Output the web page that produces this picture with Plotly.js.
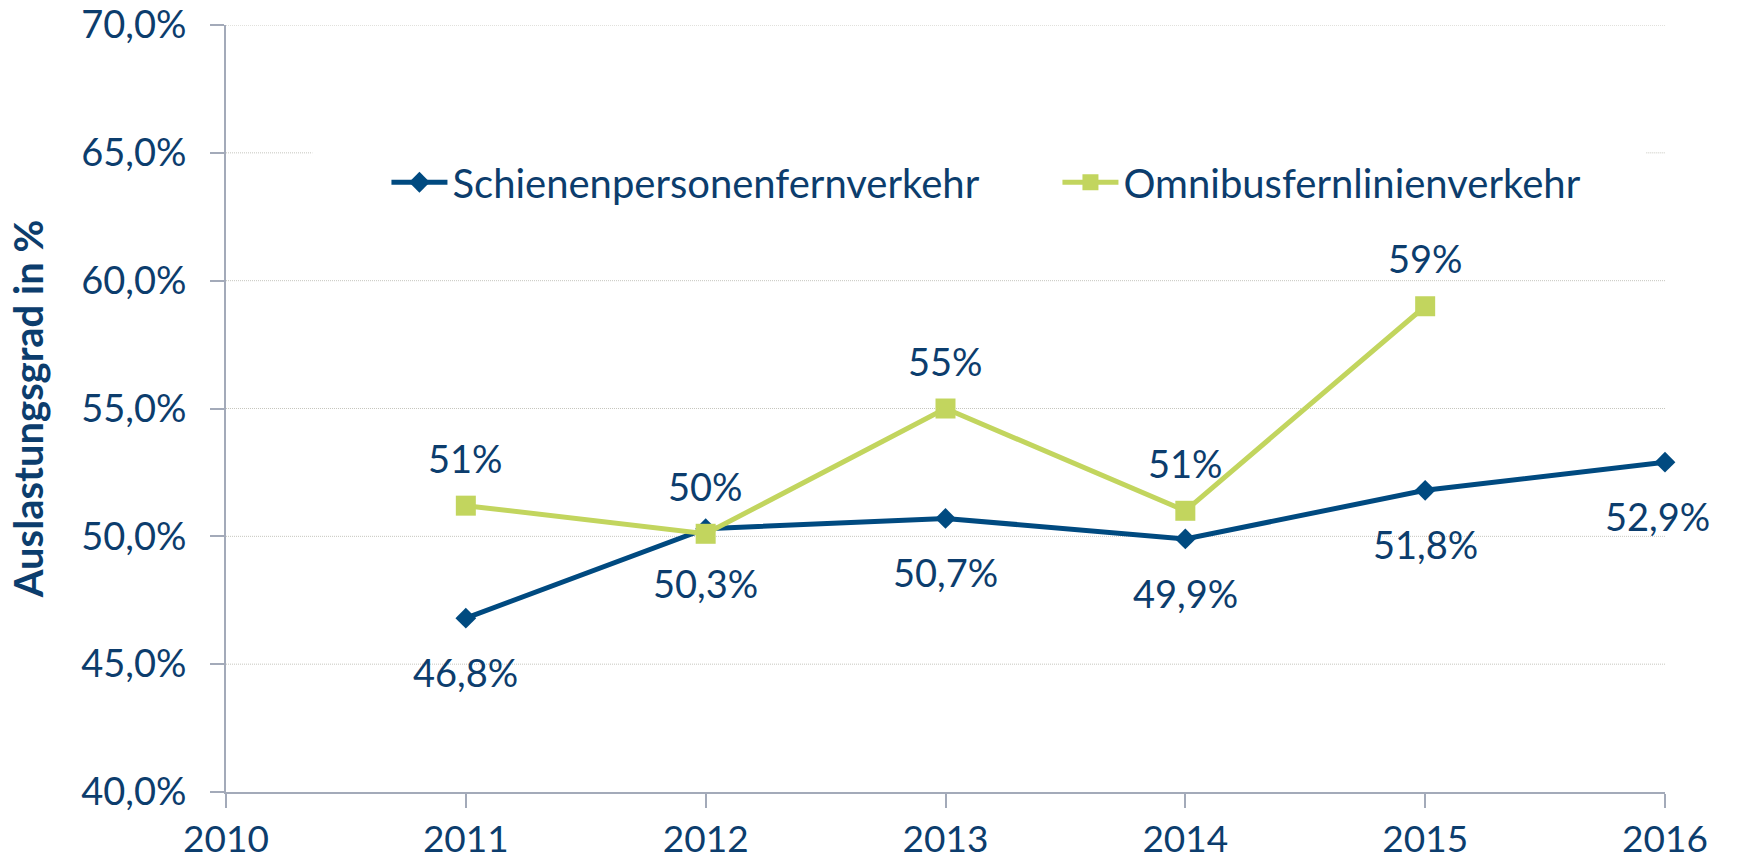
<!DOCTYPE html>
<html>
<head>
<meta charset="utf-8">
<script src="https://cdn.plot.ly/plotly-3.0.1.min.js"></script>
<style>
html,body{margin:0;padding:0;background:#fff;}
#chart{width:1737px;height:866px;}
</style>
</head>
<body>
<div id="chart"></div>
<script>
// ---- data ----
const years = [2011, 2012, 2013, 2014, 2015, 2016];
const schieneValues = [46.8, 50.3, 50.7, 49.9, 51.8, 52.9];
const busYears = [2011, 2012, 2013, 2014, 2015];
const busValues = [51.2, 50.1, 55.0, 51.0, 59.0];
const seriesNames = ["Schienenpersonenfernverkehr", "Omnibusfernlinienverkehr"];
const yTickVals = [40, 45, 50, 55, 60, 65, 70];
const yTickText = ["40,0%", "45,0%", "50,0%", "55,0%", "60,0%", "65,0%", "70,0%"];
const xTickVals = [2010, 2011, 2012, 2013, 2014, 2015, 2016];
const yTitle = "Auslastungsgrad in %";

// ---- style ----
const TXT = "#0c3d6d";
const BLUE = "#004a80";
const GREEN = "#c2d55e";
const GRID = "#c6c6be";
const AXIS = "#a3aab9";
const FONT = "Lato, 'Open Sans', sans-serif";

const fmt1 = v => v.toFixed(1).replace(".", ",") + "%";
const fmt0 = v => Math.round(v) + "%";

const traces = [
  {
    x: years, y: schieneValues, name: seriesNames[0], type: "scatter", mode: "lines+markers",
    line: {color: BLUE, width: 5},
    marker: {symbol: "diamond", size: 16, color: BLUE},
    cliponaxis: false
  },
  {
    x: busYears, y: busValues, name: seriesNames[1], type: "scatter", mode: "lines+markers",
    line: {color: GREEN, width: 5},
    marker: {symbol: "square", size: 20, color: GREEN},
    cliponaxis: false
  }
];

const annotations = [];
years.forEach((yr, i) => {
  annotations.push({
    x: yr, y: schieneValues[i], xref: "x", yref: "y", text: fmt1(schieneValues[i]),
    showarrow: false, yshift: -54, xshift: (i === years.length - 1 ? -8 : 0),
    font: {family: FONT, size: 38, color: TXT}
  });
});
busYears.forEach((yr, i) => {
  annotations.push({
    x: yr, y: busValues[i], xref: "x", yref: "y", text: fmt0(busValues[i]),
    showarrow: false, yshift: 48,
    font: {family: FONT, size: 38, color: TXT}
  });
});

// dotted gridlines (the 65 % line is interrupted by the legend)
const shapes = [];
yTickVals.forEach(v => {
  if (v === 40) return;
  const segs = (v === 65) ? [[0, 0.06], [0.987, 1]] : [[0, 1]];
  segs.forEach(s => shapes.push({
    type: "line", xref: "paper", yref: "y", x0: s[0], x1: s[1], y0: v, y1: v,
    line: {color: GRID, width: 1, dash: "1px,1px"}, layer: "below"
  }));
});

const layout = {
  width: 1737, height: 866,
  paper_bgcolor: "#ffffff", plot_bgcolor: "#ffffff",
  margin: {l: 226, r: 72, t: 25, b: 74, autoexpand: false},
  font: {family: FONT, size: 37, color: TXT},
  showlegend: true,
  legend: {
    orientation: "h", x: 0.1115, xanchor: "left", y: 0.795, yanchor: "middle",
    bgcolor: "rgba(255,255,255,0)", entrywidth: 600, entrywidthmode: "pixels",
    itemwidth: 56, font: {family: FONT, size: 40, color: TXT}, traceorder: "normal"
  },
  xaxis: {
    range: [2010, 2016], tickvals: xTickVals, ticktext: xTickVals.map(String),
    showgrid: false, zeroline: false, showline: true, linecolor: AXIS, linewidth: 2,
    ticks: "outside", ticklen: 14, tickwidth: 2, tickcolor: AXIS,
    ticklabeloverflow: "allow",
    tickfont: {family: FONT, size: 37, color: TXT}, fixedrange: true
  },
  yaxis: {
    range: [40, 70.001], tickvals: yTickVals, ticktext: yTickText,
    showgrid: false, zeroline: false, showline: true, linecolor: AXIS, linewidth: 2,
    ticks: "outside", ticklen: 14, tickwidth: 2, tickcolor: AXIS,
    ticklabelstandoff: 16, ticklabeloverflow: "allow",
    tickfont: {family: FONT, size: 38, color: TXT},
    title: {text: yTitle, font: {family: FONT, size: 40, color: TXT, weight: "bold"}, standoff: 25},
    fixedrange: true
  },
  shapes: shapes,
  annotations: annotations
};

Plotly.newPlot("chart", traces, layout, {displayModeBar: false, staticPlot: true});
</script>
</body>
</html>
